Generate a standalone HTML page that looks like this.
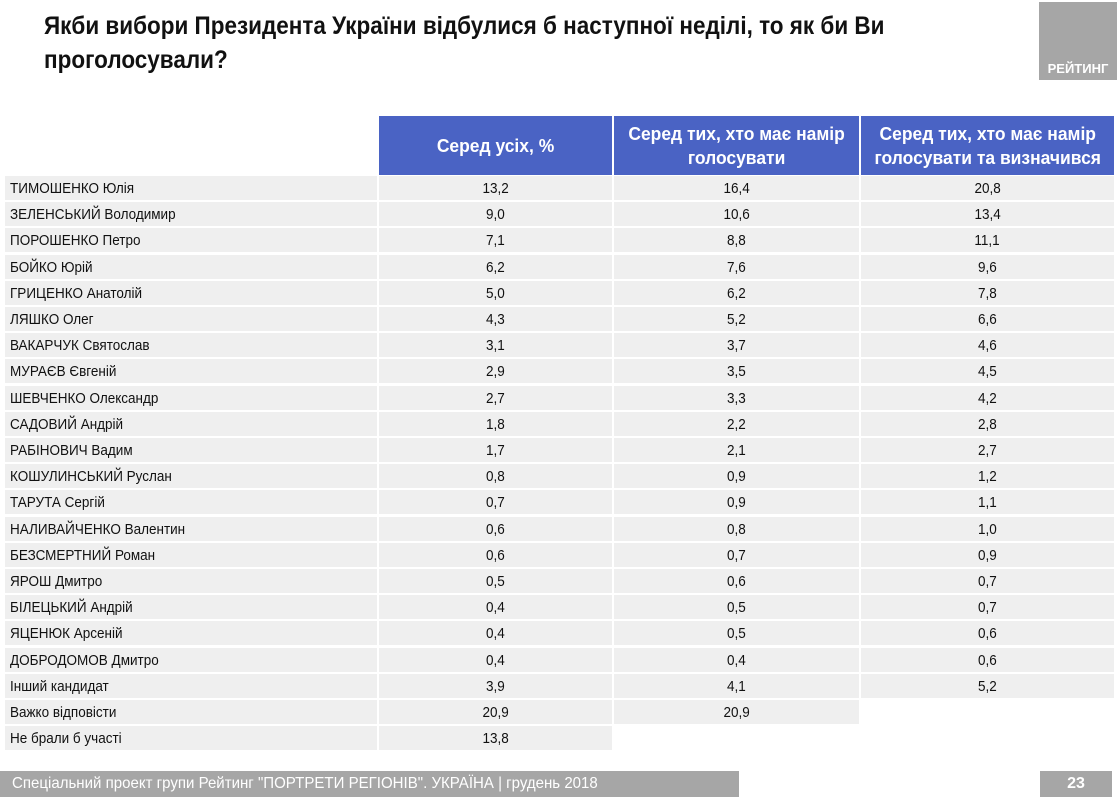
<!DOCTYPE html>
<html><head><meta charset="utf-8"><style>
*{margin:0;padding:0;box-sizing:border-box}
body{width:1120px;height:800px;background:#fff;position:relative;overflow:hidden;font-family:"Liberation Sans",sans-serif;color:#111}
.t{position:absolute;left:44px;font-weight:bold;font-size:25px;white-space:nowrap;transform:scaleX(0.9);transform-origin:left}
.logo{position:absolute;left:1039px;top:2px;width:78px;height:78px;background:#a6a6a6;color:#fff;font-weight:bold;font-size:13px;text-align:center;padding-top:59px}
.h{position:absolute;top:116px;height:59px;background:#4a63c4;color:#fff;font-weight:bold;font-size:18px;text-align:center;display:flex;align-items:center;justify-content:center;line-height:24px}
.h span{display:inline-block;transform:scaleX(0.97)}
.c{position:absolute;height:24px;background:#efefef;font-size:15px;line-height:25px;white-space:nowrap}
.c span{display:inline-block;transform:scaleX(0.9)}
.n{left:5px;width:372px;padding-left:5px}
.n span{transform-origin:left}
.a{left:379px;width:233px;text-align:center}
.b{left:614px;width:245px;text-align:center}
.d{left:861px;width:253px;text-align:center}
.foot{position:absolute;left:0;top:771px;width:739px;height:26px;background:#a6a6a6;color:#fff;font-size:16px;line-height:26px;padding-left:12px;white-space:nowrap}
.foot span{display:inline-block;transform:scaleX(0.94);transform-origin:left}
.pg{position:absolute;left:1040px;top:771px;width:72px;height:26px;background:#a6a6a6;color:#fff;font-weight:bold;font-size:16px;line-height:26px;text-align:center}
</style></head><body>
<div class="t" style="top:12px">Якби вибори Президента України відбулися б наступної неділі, то як би Ви</div>
<div class="t" style="top:46px">проголосували?</div>
<div class="logo">РЕЙТИНГ</div>
<div class="h" style="left:379px;width:233px"><span>Серед усіх, %</span></div>
<div class="h" style="left:614px;width:245px"><span>Серед тих, хто має намір<br>голосувати</span></div>
<div class="h" style="left:861px;width:253px"><span>Серед тих, хто має намір<br>голосувати та визначився</span></div>
<div id="rows"></div>
<script>
var d=[["ТИМОШЕНКО Юлія","13,2","16,4","20,8"],["ЗЕЛЕНСЬКИЙ Володимир","9,0","10,6","13,4"],["ПОРОШЕНКО Петро","7,1","8,8","11,1"],["БОЙКО Юрій","6,2","7,6","9,6"],["ГРИЦЕНКО Анатолій","5,0","6,2","7,8"],["ЛЯШКО Олег","4,3","5,2","6,6"],["ВАКАРЧУК Святослав","3,1","3,7","4,6"],["МУРАЄВ Євгеній","2,9","3,5","4,5"],["ШЕВЧЕНКО Олександр","2,7","3,3","4,2"],["САДОВИЙ Андрій","1,8","2,2","2,8"],["РАБІНОВИЧ Вадим","1,7","2,1","2,7"],["КОШУЛИНСЬКИЙ Руслан","0,8","0,9","1,2"],["ТАРУТА Сергій","0,7","0,9","1,1"],["НАЛИВАЙЧЕНКО Валентин","0,6","0,8","1,0"],["БЕЗСМЕРТНИЙ Роман","0,6","0,7","0,9"],["ЯРОШ Дмитро","0,5","0,6","0,7"],["БІЛЕЦЬКИЙ Андрій","0,4","0,5","0,7"],["ЯЦЕНЮК Арсеній","0,4","0,5","0,6"],["ДОБРОДОМОВ Дмитро","0,4","0,4","0,6"],["Інший кандидат","3,9","4,1","5,2"],["Важко відповісти","20,9","20,9",null],["Не брали б участі","13,8",null,null]];
var h="",cls=["n","a","b","d"];
d.forEach(function(r,i){var y=176+i*26.2;r.forEach(function(v,j){if(v!==null)h+='<div class="c '+cls[j]+'" style="top:'+y.toFixed(1)+'px"><span>'+v+'</span></div>';});});
document.getElementById("rows").innerHTML=h;
</script>
<div class="foot"><span>Спеціальний проект групи Рейтинг "ПОРТРЕТИ РЕГІОНІВ". УКРАЇНА | грудень 2018</span></div>
<div class="pg">23</div>
</body></html>
